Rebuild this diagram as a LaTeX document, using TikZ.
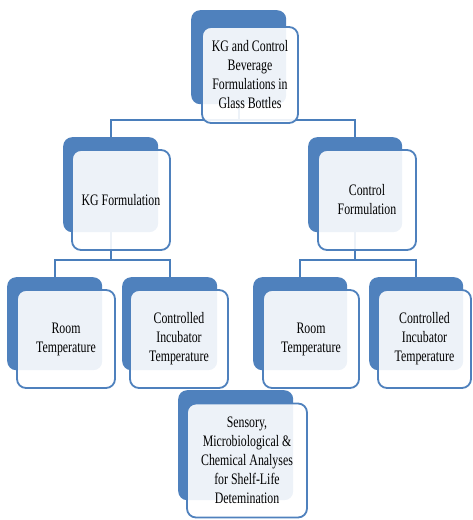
\documentclass[tikz,border=0pt]{standalone}
\usepackage{fontspec}
\setmainfont{Liberation Serif}[FakeStretch=0.74]
\definecolor{sablue}{HTML}{4F81BD}
\definecolor{saline}{HTML}{4A7EBB}
\begin{document}
\begin{tikzpicture}[x=1pt,y=-1pt,
  backbox/.style={fill=sablue, draw=none, rounded corners=9pt, anchor=north west, inner sep=0pt},
  frontbox/.style={fill=white, fill opacity=0.9, text opacity=1, draw=sablue, line width=1.8pt,
     rounded corners=9pt, align=center, inner sep=0pt,
     font=\fontsize{16}{19}\selectfont},
  conn/.style={draw=saline, line width=2.2pt}]
\useasboundingbox (0,0) rectangle (472,520);
% back boxes (named)
\node[backbox, minimum width=95pt, minimum height=94pt] (b0) at (191,10) {};
\node[backbox, minimum width=95pt, minimum height=95pt] (b1) at (63,137) {};
\node[backbox, minimum width=94pt, minimum height=95pt] (b2) at (308,137) {};
\node[backbox, minimum width=95pt, minimum height=93pt] (b3) at (7,277) {};
\node[backbox, minimum width=95pt, minimum height=93pt] (b4) at (122,277) {};
\node[backbox, minimum width=94pt, minimum height=93pt] (b5) at (253,277) {};
\node[backbox, minimum width=94pt, minimum height=93pt] (b6) at (369,277) {};
\node[backbox, minimum width=115pt, minimum height=110pt] (b7) at (178,390) {};
% connectors (behind front boxes)
\draw[conn] (b0.south) -- (b0.south |- 0,120) coordinate (j0);
\draw[conn] (b1.north) |- (j0) -| (b2.north);
\draw[conn] (b1.south) -- (b1.south |- 0,260) coordinate (j1);
\draw[conn] (b3.north) |- (j1) -| (b4.north);
\draw[conn] (b2.south) -- (b2.south |- 0,260) coordinate (j2);
\draw[conn] (b5.north) |- (j2) -| (b6.north);
% front boxes
\node[frontbox, minimum width=96pt, minimum height=96pt] (f0) at (250,75)
  {KG and Control\\Beverage\\Formulations in\\Glass Bottles};
\node[frontbox, minimum width=98pt, minimum height=100pt] (f1) at (121,200)
  {KG Formulation};
\node[frontbox, minimum width=98pt, minimum height=100pt] (f2) at (367,200)
  {Control\\Formulation};
\node[frontbox, minimum width=98pt, minimum height=98pt] (f3) at (66,339)
  {Room\\Temperature};
\node[frontbox, minimum width=98pt, minimum height=98pt] (f4) at (179,339)
  {Controlled\\Incubator\\Temperature};
\node[frontbox, minimum width=96pt, minimum height=98pt] (f5) at (311,339)
  {Room\\Temperature};
\node[frontbox, minimum width=93pt, minimum height=98pt] (f6) at (424.5,339)
  {Controlled\\Incubator\\Temperature};
\node[frontbox, minimum width=120pt, minimum height=114pt] (f7) at (247,460.5)
  {Sensory,\\Microbiological \&\\Chemical Analyses\\for Shelf-Life\\Detemination};
\end{tikzpicture}
\end{document}
